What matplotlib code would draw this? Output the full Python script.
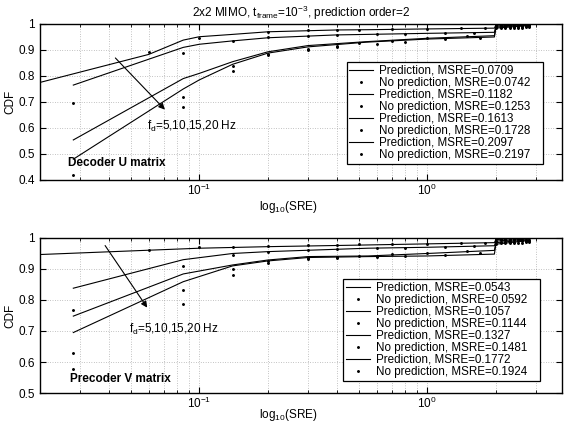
import matplotlib
matplotlib.use("Agg")
import matplotlib.pyplot as plt
from matplotlib.ticker import FixedLocator, NullFormatter

plt.rcParams['font.family'] = ['Liberation Sans', 'DejaVu Sans']
plt.rcParams['mathtext.default'] = 'regular'

# ---- Decoder U matrix (top) ----
U_pred_x = [
    [0.015, 0.06, 0.085, 0.1, 0.14, 0.2, 0.4, 0.55, 1.0, 1.97, 2.0, 2.8],
    [0.028, 0.085, 0.1, 0.14, 0.2, 0.4, 0.55, 1.0, 1.97, 2.0, 2.8],
    [0.028, 0.085, 0.1, 0.14, 0.2, 0.3, 0.54, 1.0, 1.97, 2.0, 2.8],
    [0.028, 0.085, 0.1, 0.14, 0.2, 0.3, 0.54, 1.0, 1.97, 2.0, 2.8],
]
U_pred_y = [
    [0.747, 0.883, 0.938, 0.951, 0.96, 0.97, 0.977, 0.978, 0.981, 0.984, 0.996, 1.0],
    [0.765, 0.91, 0.922, 0.935, 0.947, 0.958, 0.96, 0.964, 0.968, 0.992, 0.998],
    [0.554, 0.79, 0.81, 0.855, 0.893, 0.917, 0.932, 0.945, 0.955, 0.988, 0.996],
    [0.48, 0.75, 0.785, 0.845, 0.888, 0.912, 0.93, 0.942, 0.95, 0.984, 0.994],
]
U_nopred_x = [
    [0.06, 0.1, 0.2, 0.3, 0.4, 0.5, 0.7, 1.0, 1.4, 1.8, 2.0, 2.1, 2.2, 2.3, 2.4, 2.5, 2.6, 2.7, 2.8],
    [0.028, 0.085, 0.14, 0.2, 0.3, 0.4, 0.6, 0.8, 1.2, 1.6, 2.0, 2.1, 2.2, 2.3, 2.4, 2.5, 2.6, 2.7, 2.8],
    [0.028, 0.085, 0.14, 0.2, 0.3, 0.4, 0.5, 0.7, 1.0, 1.5, 2.0, 2.1, 2.2, 2.3, 2.4, 2.5, 2.6, 2.7, 2.8],
    [0.028, 0.085, 0.14, 0.2, 0.3, 0.4, 0.6, 0.8, 1.2, 1.7, 2.0, 2.1, 2.2, 2.3, 2.4, 2.5, 2.6, 2.7, 2.8],
]
U_nopred_y = [
    [0.893, 0.945, 0.968, 0.975, 0.977, 0.978, 0.98, 0.981, 0.983, 0.984, 0.996, 0.996, 0.997, 0.997, 0.997, 0.998, 0.998, 0.999, 0.999],
    [0.695, 0.89, 0.935, 0.95, 0.955, 0.958, 0.961, 0.963, 0.965, 0.967, 0.991, 0.992, 0.992, 0.993, 0.993, 0.994, 0.994, 0.995, 0.995],
    [0.42, 0.72, 0.84, 0.885, 0.905, 0.917, 0.925, 0.935, 0.945, 0.952, 0.987, 0.988, 0.988, 0.989, 0.989, 0.99, 0.99, 0.991, 0.991],
    [0.36, 0.682, 0.82, 0.88, 0.9, 0.912, 0.922, 0.932, 0.942, 0.948, 0.983, 0.984, 0.984, 0.985, 0.985, 0.986, 0.986, 0.987, 0.987],
]
U_labels_pred = ["Prediction, MSRE=0.0709", "Prediction, MSRE=0.1182",
                 "Prediction, MSRE=0.1613", "Prediction, MSRE=0.2097"]
U_labels_nopred = ["No prediction, MSRE=0.0742", "No prediction, MSRE=0.1253",
                   "No prediction, MSRE=0.1728", "No prediction, MSRE=0.2197"]

# ---- Precoder V matrix (bottom) ----
V_pred_x = [
    [0.015, 0.1, 0.2, 0.5, 1.0, 1.97, 2.0, 2.8],
    [0.028, 0.085, 0.14, 0.2, 0.55, 1.0, 1.97, 2.0, 2.8],
    [0.028, 0.085, 0.14, 0.2, 0.3, 0.55, 1.0, 1.97, 2.0, 2.8],
    [0.028, 0.085, 0.14, 0.2, 0.3, 0.55, 1.0, 1.97, 2.0, 2.8],
]
V_pred_y = [
    [0.943, 0.967, 0.972, 0.977, 0.981, 0.985, 0.995, 1.0],
    [0.838, 0.93, 0.95, 0.956, 0.967, 0.97, 0.975, 0.99, 0.997],
    [0.748, 0.884, 0.913, 0.929, 0.94, 0.942, 0.95, 0.96, 0.985, 0.994],
    [0.695, 0.859, 0.91, 0.926, 0.937, 0.94, 0.942, 0.948, 0.98, 0.992],
]
V_nopred_x = [
    [0.06, 0.1, 0.14, 0.2, 0.3, 0.4, 0.5, 0.7, 1.0, 1.4, 1.8, 2.0, 2.1, 2.2, 2.3, 2.4, 2.5, 2.6, 2.7, 2.8],
    [0.028, 0.085, 0.14, 0.2, 0.3, 0.4, 0.6, 0.8, 1.2, 1.6, 2.0, 2.1, 2.2, 2.3, 2.4, 2.5, 2.6, 2.7, 2.8],
    [0.028, 0.085, 0.14, 0.2, 0.3, 0.4, 0.5, 0.7, 1.0, 1.5, 2.0, 2.1, 2.2, 2.3, 2.4, 2.5, 2.6, 2.7, 2.8],
    [0.028, 0.085, 0.14, 0.2, 0.3, 0.4, 0.6, 0.8, 1.2, 1.7, 2.0, 2.1, 2.2, 2.3, 2.4, 2.5, 2.6, 2.7, 2.8],
]
V_nopred_y = [
    [0.961, 0.97, 0.972, 0.975, 0.977, 0.978, 0.979, 0.98, 0.982, 0.983, 0.985, 0.996, 0.996, 0.997, 0.997, 0.998, 0.998, 0.999, 0.999, 1.0],
    [0.768, 0.91, 0.945, 0.955, 0.962, 0.965, 0.967, 0.969, 0.971, 0.973, 0.991, 0.992, 0.992, 0.993, 0.993, 0.994, 0.994, 0.995, 0.995],
    [0.628, 0.832, 0.9, 0.925, 0.936, 0.94, 0.943, 0.947, 0.952, 0.958, 0.986, 0.987, 0.987, 0.988, 0.988, 0.989, 0.989, 0.99, 0.99],
    [0.577, 0.786, 0.88, 0.92, 0.932, 0.937, 0.94, 0.943, 0.946, 0.95, 0.982, 0.983, 0.983, 0.984, 0.984, 0.985, 0.985, 0.986, 0.986],
]
V_labels_pred = ["Prediction, MSRE=0.0543", "Prediction, MSRE=0.1057",
                 "Prediction, MSRE=0.1327", "Prediction, MSRE=0.1772"]
V_labels_nopred = ["No prediction, MSRE=0.0592", "No prediction, MSRE=0.1144",
                   "No prediction, MSRE=0.1481", "No prediction, MSRE=0.1924"]

minor_x = [0.02, 0.03, 0.04, 0.05, 0.06, 0.07, 0.08, 0.09,
           0.2, 0.3, 0.4, 0.5, 0.6, 0.7, 0.8, 0.9, 2, 3]


def panel(ax, px, py, nx, ny, lab_p, lab_n, ylo, name, arrow, ftxt, namepos, leg_anchor, xlab_y):
    for i in range(4):
        # trailing spaces widen the legend box on the right like the original
        ax.plot(px[i], py[i], '-', color='k', lw=0.8, label=lab_p[i] + '   ')
        ax.plot(nx[i], ny[i], '.', color='k', ms=2.2, label=lab_n[i] + '   ')
    ax.set_xscale('log')
    ax.set_xlim(0.02, 3.9)
    ax.set_ylim(ylo, 1)
    yt = [round(ylo + 0.1 * k, 1) for k in range(int(round((1 - ylo) / 0.1)) + 1)]
    ax.set_yticks(yt)
    ax.set_yticklabels(['1' if v == 1 else '%.1f' % v for v in yt])
    ax.set_xticks([0.1, 1])
    ax.set_xticklabels(['$10^{-1}$', '$10^{0}$'])
    ax.xaxis.set_minor_locator(FixedLocator(minor_x))
    ax.xaxis.set_minor_formatter(NullFormatter())
    ax.tick_params(which='both', direction='in', top=True, right=True, labelsize=8.5)
    ax.tick_params(which='major', length=4)
    ax.tick_params(which='minor', length=2)
    ax.tick_params(axis='x', pad=2)
    ax.grid(True, which='both', axis='x', color='0.55', lw=0.5, ls=(0, (1, 2.5)))
    ax.grid(True, which='major', axis='y', color='0.55', lw=0.5, ls=(0, (1, 2.5)))
    for s in ax.spines.values():
        s.set_linewidth(1.0)
    ax.set_xlabel('log$_{10}$(SRE)', fontsize=8.5)
    ax.xaxis.set_label_coords(0.475, xlab_y)
    ax.set_ylabel('CDF', fontsize=8.5)
    ax.yaxis.set_label_coords(-0.045, 0.5)
    ax.annotate('', xy=arrow[1], xytext=arrow[0],
                arrowprops=dict(arrowstyle='-|>', color='k', lw=0.8, mutation_scale=9))
    ax.text(ftxt[0], ftxt[1], 'f$_d$=5,10,15,20 Hz', fontsize=8.5, va='center')
    ax.text(namepos[0], namepos[1], name, fontsize=8.5, fontweight='bold', va='center')
    leg = ax.legend(loc='upper right', bbox_to_anchor=leg_anchor, fontsize=8.4,
                    fancybox=False, framealpha=1, edgecolor='k', handlelength=2.0,
                    handletextpad=0.55, labelspacing=0.0, borderpad=0.25,
                    borderaxespad=0, markerscale=1)
    leg.get_frame().set_linewidth(0.9)


fig = plt.figure(figsize=(5.65, 4.23), dpi=100)
ax1 = fig.add_axes([0.0708, 0.5745, 0.9239, 0.3688])
ax2 = fig.add_axes([0.0708, 0.0709, 0.9239, 0.3665])

panel(ax1, U_pred_x, U_pred_y, U_nopred_x, U_nopred_y, U_labels_pred, U_labels_nopred,
      0.4, 'Decoder U matrix', ((0.042, 0.877), (0.072, 0.663)), (0.059, 0.605),
      (0.0266, 0.465), (0.964, 0.758), -0.12)
panel(ax2, V_pred_x, V_pred_y, V_nopred_x, V_nopred_y, V_labels_pred, V_labels_nopred,
      0.5, 'Precoder V matrix', ((0.038, 0.983), (0.060, 0.768)), (0.049, 0.704),
      (0.0271, 0.544), (0.958, 0.735), -0.09)

ax1.set_title('2x2 MIMO, t$_{frame}$=10$^{-3}$, prediction order=2', fontsize=8.5, pad=5)

fig.savefig('out.png', dpi=100)
